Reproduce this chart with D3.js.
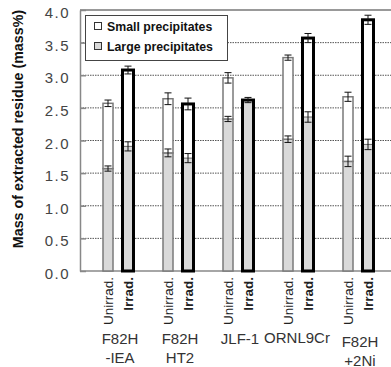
<!DOCTYPE html>
<html lang="en">
<head>
<meta charset="UTF-8">
<title>Mass of extracted residue</title>
<script src="https://d3js.org/d3.v7.min.js"></script>
<style>
html, body {
  margin: 0;
  padding: 0;
  background-color: white;
}
body {
  font-family: 'Liberation Sans', Arial, sans-serif;
}
.y-axis text {
  font-size: 15px;
  fill: #444;
  letter-spacing: 1.5px;
}
.y-axis path { stroke: #888; stroke-width: 1.5px; }
.y-axis line { stroke: #888; stroke-width: 1.5px; }
.grid line {
  stroke: #555;
  stroke-width: 1px;
  stroke-dasharray: 1.5,1;
}
.cond-label { font-size: 13.5px; fill: #222; }
.group-label { font-size: 15px; fill: #333; }
.legend text { font-size: 12.3px; font-weight: bold; fill: #111; }
.err { stroke: #111; stroke-width: 1px; }
</style>
</head>
<body>
<div id="chart"></div>
<script>

// ----------------------------------------------------
// Data
// ----------------------------------------------------

const groups = ["F82H-IEA", "F82H HT2", "JLF-1", "ORNL9Cr", "F82H+2Ni"];
const groupLines = [["F82H", "-IEA"], ["F82H", "HT2"], ["JLF-1"], ["ORNL9Cr"], ["F82H", "+2Ni"]];
const conditions = ["Unirrad.", "Irrad."];

// large precipitates (bottom, grey) and small precipitates (top, white), mass%
const largeUnirrad = [1.57, 1.81, 2.33, 2.02, 1.68];
const smallUnirrad = [1.00, 0.83, 0.63, 1.25, 0.99];
const largeIrrad   = [1.91, 1.73, 2.62, 2.36, 1.94];
const smallIrrad   = [1.17, 0.83, 0.00, 1.21, 1.91];

// error bars (+/-)
const errLargeUnirrad = [0.04, 0.06, 0.04, 0.05, 0.08];
const errTotalUnirrad = [0.05, 0.09, 0.08, 0.04, 0.07];
const errLargeIrrad   = [0.07, 0.07, 0.04, 0.08, 0.08];
const errTotalIrrad   = [0.06, 0.09, 0.04, 0.07, 0.07];

const yTicks = [0, 0.5, 1, 1.5, 2, 2.5, 3, 3.5, 4];

// ----------------------------------------------------
// Size
// ----------------------------------------------------

const totalWidth = 391, totalHeight = 367;
const plotLeft = 80, plotRight = 391, plotTop = 10, plotBottom = 271;

const svg = d3.select("#chart").append("svg")
  .attr("width", totalWidth)
  .attr("height", totalHeight);

// ----------------------------------------------------
// Scales
// ----------------------------------------------------

const y = d3.scaleLinear().domain([0, 4]).range([plotBottom, plotTop]);
const x = d3.scaleBand().domain(groups).range([88, 388]);
const inner = d3.scaleBand().domain(conditions).range([10, 50]);

const barW = { "Unirrad.": 10, "Irrad.": 11 };

// build table
let rows = [];
groups.forEach((g, i) => {
  rows.push({group: g, cond: "Unirrad.", large: largeUnirrad[i], small: smallUnirrad[i],
             eL: errLargeUnirrad[i], eT: errTotalUnirrad[i]});
  rows.push({group: g, cond: "Irrad.", large: largeIrrad[i], small: smallIrrad[i],
             eL: errLargeIrrad[i], eT: errTotalIrrad[i]});
});
const cx = d => x(d.group) + inner(d.cond) + inner.bandwidth() / 2;

// ----------------------------------------------------
// Grid + axes
// ----------------------------------------------------

svg.append("g")
  .attr("class", "grid")
  .selectAll("line")
  .data(yTicks.filter(t => t > 0 && t < 4))
  .join("line")
  .attr("x1", plotLeft)
  .attr("x2", plotRight)
  .attr("y1", d => y(d))
  .attr("y2", d => y(d));

// top frame
svg.append("line")
  .attr("x1", plotLeft).attr("x2", plotRight)
  .attr("y1", y(4)).attr("y2", y(4))
  .attr("stroke", "#999").attr("stroke-width", 2);

// baseline
svg.append("line")
  .attr("x1", plotLeft).attr("x2", plotRight)
  .attr("y1", y(0)).attr("y2", y(0))
  .attr("stroke", "#888").attr("stroke-width", 1.5);

const yAxis = svg.append("g")
  .attr("class", "y-axis")
  .attr("transform", `translate(${plotLeft},0)`)
  .call(d3.axisLeft(y)
    .tickValues(yTicks)
    .tickFormat(d3.format(".1f"))
    .tickSizeInner(-6)
    .tickSizeOuter(0)
    .tickPadding(10));
yAxis.selectAll("text").attr("dy", "0.5em");

// ----------------------------------------------------
// Bars
// ----------------------------------------------------

const bars = svg.append("g").selectAll("g")
  .data(rows)
  .join("g");

// grey part (large)
bars.append("rect")
  .attr("x", d => cx(d) - barW[d.cond] / 2)
  .attr("width", d => barW[d.cond])
  .attr("y", d => y(d.large))
  .attr("height", d => y(0) - y(d.large))
  .attr("fill", "#d9d9d9")
  .attr("stroke", d => d.cond === "Irrad." ? "none" : "#7a7a7a")
  .attr("stroke-width", 1.5);

// white part (small)
bars.filter(d => d.small > 0).append("rect")
  .attr("x", d => cx(d) - barW[d.cond] / 2)
  .attr("width", d => barW[d.cond])
  .attr("y", d => y(d.large + d.small))
  .attr("height", d => y(d.large) - y(d.large + d.small))
  .attr("fill", "white")
  .attr("stroke", d => d.cond === "Irrad." ? "none" : "#7a7a7a")
  .attr("stroke-width", 1.5);

// separator line for irradiated bars
bars.filter(d => d.cond === "Irrad." && d.small > 0).append("line")
  .attr("x1", d => cx(d) - barW[d.cond] / 2)
  .attr("x2", d => cx(d) + barW[d.cond] / 2)
  .attr("y1", d => y(d.large))
  .attr("y2", d => y(d.large))
  .attr("stroke", "#666").attr("stroke-width", 1);

// thick outline for irradiated
bars.filter(d => d.cond === "Irrad.").append("rect")
  .attr("x", d => cx(d) - barW[d.cond] / 2)
  .attr("width", d => barW[d.cond])
  .attr("y", d => y(d.large + d.small))
  .attr("height", d => y(0) - y(d.large + d.small))
  .attr("fill", "none")
  .attr("stroke", "#000")
  .attr("stroke-width", 3);

// error bars
function errBar(g, val, err) {
  g.append("line").attr("class", "err")
    .attr("x1", d => cx(d)).attr("x2", d => cx(d))
    .attr("y1", d => y(val(d) + err(d))).attr("y2", d => y(val(d) - err(d)));
  [1, -1].forEach(s => {
    g.append("line").attr("class", "err")
      .attr("x1", d => cx(d) - 3.5).attr("x2", d => cx(d) + 3.5)
      .attr("y1", d => y(val(d) + s * err(d))).attr("y2", d => y(val(d) + s * err(d)));
  });
}
errBar(bars, d => d.large + d.small, d => d.eT);
errBar(bars.filter(d => d.small > 0), d => d.large, d => d.eL);

// ----------------------------------------------------
// X labels
// ----------------------------------------------------

svg.append("g").selectAll("text")
  .data(rows)
  .join("text")
  .attr("class", "cond-label")
  .attr("transform", d => `translate(${cx(d) + 4.5},277) rotate(-90)`)
  .attr("text-anchor", "end")
  .attr("font-weight", d => d.cond === "Irrad." ? "bold" : "normal")
  .text(d => d.cond);

const groupDy = [0, 0, 0, -1, 3];
const gl = svg.append("g").selectAll("text")
  .data(groups)
  .join("text")
  .attr("class", "group-label")
  .attr("text-anchor", "middle")
  .attr("x", (d, i) => x(d) + x.bandwidth() / 2 + (i === 3 ? -1 : 2))
  .attr("y", (d, i) => 344 + groupDy[i]);
gl.selectAll("tspan")
  .data((d, i) => groupLines[i])
  .join("tspan")
  .attr("x", function() { return this.parentNode.getAttribute("x"); })
  .attr("dy", (d, i) => i === 0 ? 0 : 18.5)
  .text(d => d);

// ----------------------------------------------------
// Y title
// ----------------------------------------------------

svg.append("text")
  .attr("transform", `translate(23,129) rotate(-90)`)
  .attr("text-anchor", "middle")
  .attr("font-weight", "bold")
  .attr("font-size", "14.3px")
  .attr("fill", "#111")
  .text("Mass of extracted residue (mass%)");

// ----------------------------------------------------
// Legend
// ----------------------------------------------------

const legend = svg.append("g").attr("class", "legend");
legend.append("rect")
  .attr("x", 85.5).attr("y", 15.5).attr("width", 142).attr("height", 45)
  .attr("fill", "white").attr("stroke", "#444").attr("stroke-width", 1);

const legendItems = ["Small precipitates", "Large precipitates"];
const legendFill = ["white", "#d9d9d9"];
legendItems.forEach((t, i) => {
  legend.append("rect")
    .attr("x", 94.5).attr("y", 22.5 + i * 20).attr("width", 7).attr("height", 7)
    .attr("fill", legendFill[i]).attr("stroke", "#333").attr("stroke-width", 1);
  legend.append("text")
    .attr("x", 107).attr("y", 31 + i * 20)
    .text(t);
});

</script>
</body>
</html>
